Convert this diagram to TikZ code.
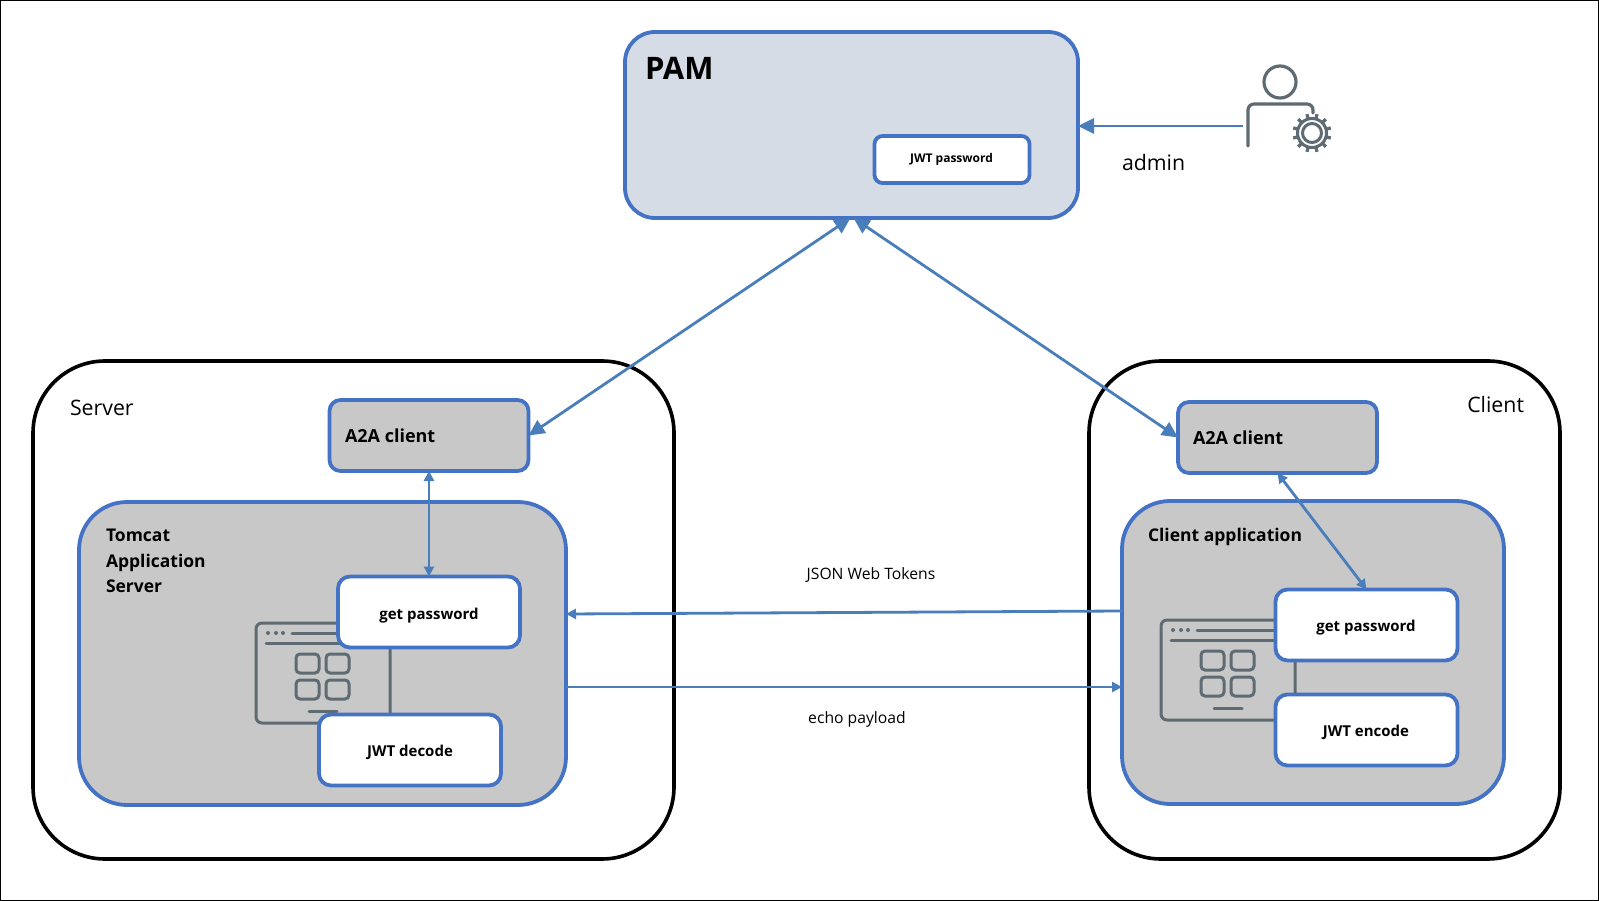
\documentclass[tikz,border=0pt]{standalone}
\usepackage{fontspec}
\setmainfont{Open Sans}
\usetikzlibrary{arrows.meta}
\definecolor{bluebd}{HTML}{4472C4}
\definecolor{arrowc}{HTML}{4A7EBB}
\definecolor{pamfill}{HTML}{D6DCE5}
\definecolor{greyfill}{HTML}{C8C8C8}
\definecolor{iconc}{HTML}{5F6B73}
\tikzset{
  x=1pt,y=-1pt,
  boxbase/.style={rectangle,outer sep=0pt,inner sep=0pt,draw=bluebd,line width=3.8pt},
  pambox/.style={boxbase,fill=pamfill,rounded corners=30pt,minimum width=453pt,minimum height=186pt},
  outerbox/.style={rectangle,outer sep=0pt,inner sep=0pt,draw=black,line width=3.6pt,fill=white,rounded corners=72pt,minimum height=498pt},
  greybox/.style={boxbase,fill=greyfill,rounded corners=48pt},
  a2abox/.style={boxbase,fill=greyfill,rounded corners=11pt,minimum width=199pt,minimum height=71pt},
  whitebox/.style={boxbase,fill=white,rounded corners=12pt,minimum width=182pt,minimum height=71pt},
  lbl/.style={inner sep=0pt,outer sep=0pt,font=\fontsize{21.3}{25}\selectfont},
  boldlbl/.style={inner sep=0pt,outer sep=0pt,font=\bfseries\fontsize{17.5}{25.5}\selectfont},
  smalllbl/.style={inner sep=0pt,outer sep=0pt,font=\fontsize{15.7}{18}\selectfont},
  link/.style={draw=arrowc,line width=2.8pt},
  bigtip/.style={{Triangle[length=16pt,width=15pt]}-{Triangle[length=16pt,width=15pt]}},
  smalltip/.style={{Triangle[length=10pt,width=10pt]}-{Triangle[length=10pt,width=10pt]}},
  icon/.style={draw=iconc,line width=3pt,line cap=round},
}
\newcommand{\appicon}[2]{%
  \begin{scope}[shift={(#1,#2)}]
    \draw[icon,rounded corners=6pt] (0,0) rectangle (134,100);
    \fill[iconc] (12,10) circle (2pt) (20,10) circle (2pt) (27,10) circle (2pt);
    \draw[icon] (36,10) -- (124,10);
    \draw[icon] (10,20) -- (124,20);
    \draw[icon,rounded corners=4pt] (40,31) rectangle (63,50);
    \draw[icon,rounded corners=4pt] (70,31) rectangle (93,50);
    \draw[icon,rounded corners=4pt] (40,57) rectangle (63,76);
    \draw[icon,rounded corners=4pt] (70,57) rectangle (93,76);
    \draw[icon] (53,88) -- (81,88);
  \end{scope}}
\begin{document}
\begin{tikzpicture}
\useasboundingbox (0,0) rectangle (1599,901);
\fill[white] (0,0) rectangle (1599,901);
\draw[black,line width=2pt] (0,0) rectangle (1599,901);

% outer containers
\node[outerbox,minimum width=641pt] (server) at (353.5,610) {};
\node[outerbox,minimum width=471pt] (client) at (1324.5,610) {};

% PAM
\node[pambox] (pam) at (851.5,125) {};
\node[boxbase,fill=white,rounded corners=8pt,minimum width=155pt,minimum height=47pt] (jwtpw) at (952,159.5) {};
\node[inner sep=0pt,font=\bfseries\fontsize{12}{14}\selectfont] (jwtpwt) at (951.5,159.5) {JWT password};
\node[lbl,anchor=west,font=\bfseries\fontsize{31}{36}\selectfont] (pamt) at (645,68) {PAM};

% A2A
\node[a2abox] (a2as) at (429,435.5) {};
\node[a2abox] (a2ac) at (1277.5,437.5) {};
\node[boldlbl,anchor=west,font=\bfseries\fontsize{18}{24}\selectfont] (a2ast) at (345,435.5) {A2A client};
\node[boldlbl,anchor=west,font=\bfseries\fontsize{18}{24}\selectfont] (a2act) at (1193,437.5) {A2A client};

% application containers
\node[greybox,minimum width=487pt,minimum height=303pt] (tomcat) at (322.5,653.5) {};
\node[greybox,minimum width=382pt,minimum height=303pt] (capp) at (1313,652.5) {};
\node[boldlbl,anchor=north west,align=left] (tomcatt) at (106,529.5) {Tomcat\\Application\\Server};
\node[boldlbl,anchor=west] (cappt) at (1148,537) {Client application};

% window icons
\appicon{256}{623}
\appicon{1161}{620}

% inner white boxes
\node[whitebox] (gets) at (429,612) {};
\node[whitebox] (jwtd) at (410,750) {};
\node[whitebox] (getc) at (1366.5,625) {};
\node[whitebox] (jwte) at (1366.5,730) {};
\node[inner sep=0pt,font=\bfseries\fontsize{15}{18}\selectfont] (getst) at (429,616) {get password};
\node[inner sep=0pt,font=\bfseries\fontsize{15}{18}\selectfont] (jwtdt) at (410,752) {JWT decode};
\node[inner sep=0pt,font=\bfseries\fontsize{15}{18}\selectfont] (getct) at (1366,628) {get password};
\node[inner sep=0pt,font=\bfseries\fontsize{15}{18}\selectfont] (jwtet) at (1366,732) {JWT encode};

% labels
\node[lbl,anchor=west] (servert) at (70,408) {Server};
\node[lbl,anchor=east] (clientt) at (1524,405) {Client};
\node[lbl,anchor=west] (admint) at (1122,163) {admin};
\node[smalllbl] (jsont) at (871,575) {JSON Web Tokens};
\node[smalllbl] (echot) at (857,719) {echo payload};

% admin icon
\coordinate (adminend) at (1243,126);
\draw[icon,line width=3.2pt] (1280,82) circle (16pt);
\draw[icon,line width=3.2pt,rounded corners=6pt] (1248,146) -- (1248,104) -- (1313,104) -- (1313,113);
\draw[icon,line width=3pt] (1312,133) circle (14.5pt) (1312,133) circle (9.5pt);
\foreach \a in {15,45,...,345}{
  \draw[icon,line width=3.2pt,line cap=butt] (1312,133) ++(\a:15) -- ++(\a:4.5);
}

% connectors
\draw[link,-{Triangle[length=16pt,width=15pt]}] (adminend) -- ([yshift=-1pt]pam.east);
\draw[link,bigtip] ([xshift=-1pt]pam.south) -- (a2as.east);
\draw[link,bigtip] ([xshift=2pt]pam.south) -- (a2ac.west);
\draw[link,smalltip] (a2as.south) -- (gets.north);
\draw[link,smalltip] (a2ac.south) -- (getc.north);
\draw[link,-{Triangle[length=10pt,width=10pt]}] ([yshift=41.5pt]capp.west) -- ([yshift=39.5pt]tomcat.east);
\draw[link,-{Triangle[length=10pt,width=10pt]}] ([yshift=-33.5pt]tomcat.east) -- ([yshift=-34.5pt]capp.west);
\end{tikzpicture}
\end{document}
